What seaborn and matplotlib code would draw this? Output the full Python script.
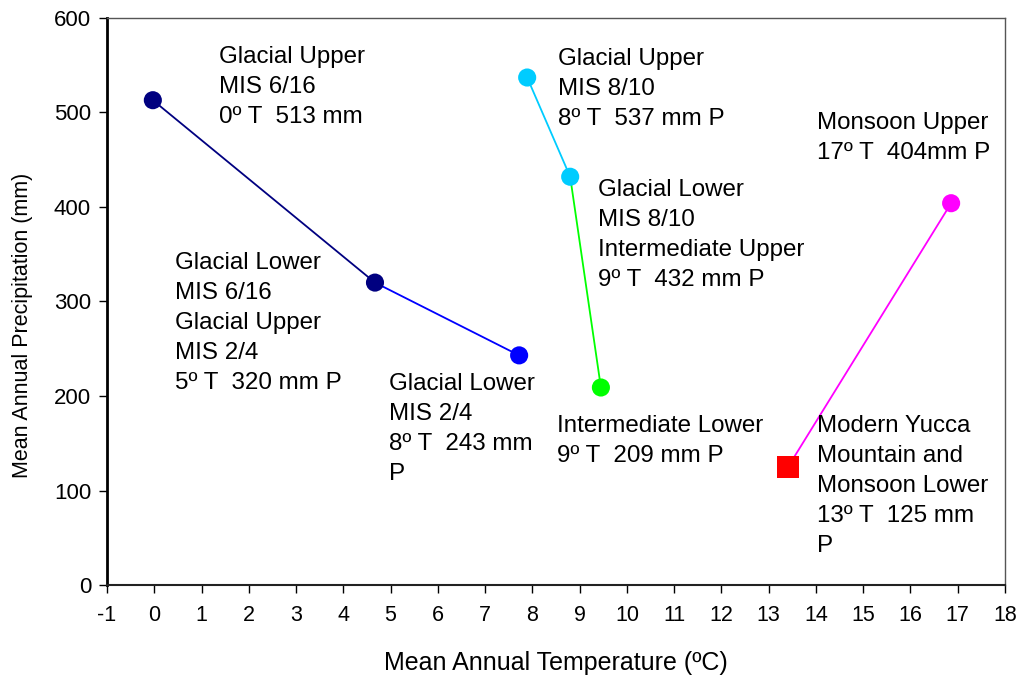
import matplotlib
matplotlib.use("Agg")
import matplotlib.pyplot as plt
import seaborn as sns
import pandas as pd

sns.set_style("white")
plt.rcParams["font.family"] = ["Liberation Sans", "DejaVu Sans"]
plt.rcParams["axes.unicode_minus"] = False
plt.rcParams["text.color"] = "black"
plt.rcParams["axes.labelcolor"] = "black"
plt.rcParams["xtick.color"] = "black"
plt.rcParams["ytick.color"] = "black"

# Climate states: mean annual temperature (ºC) and precipitation (mm)
state_names = ["Glacial Upper MIS 6/16", "Glacial Lower MIS 6/16", "Glacial Lower MIS 2/4",
               "Glacial Upper MIS 8/10", "Glacial Lower MIS 8/10", "Intermediate Lower",
               "Monsoon Upper", "Modern Yucca Mountain"]
temperature = [-0.03, 4.67, 7.72, 7.89, 8.80, 9.45, 16.86, 13.41]
precipitation = [513, 320, 243, 537, 432, 209, 404, 125]
marker_colors = ["#000080", "#000080", "#0000FF", "#00CCFF", "#00CCFF", "#00FF00", "#FF00FF", "#FF0000"]
marker_shapes = ["o", "o", "o", "o", "o", "o", "o", "s"]

# Connecting segments (index pairs into the arrays above) and their colours
segments = [(0, 1), (1, 2), (3, 4), (4, 5), (6, 7)]
segment_colors = ["#000080", "#0000FF", "#00CCFF", "#00FF00", "#FF00FF"]

labels = [
    "Glacial Upper\nMIS 6/16\n0º T  513 mm",
    "Glacial Lower\nMIS 6/16\nGlacial Upper\nMIS 2/4\n5º T  320 mm P",
    "Glacial Lower\nMIS 2/4\n8º T  243 mm\nP",
    "Glacial Upper\nMIS 8/10\n8º T  537 mm P",
    "Glacial Lower\nMIS 8/10\nIntermediate Upper\n9º T  432 mm P",
    "Intermediate Lower\n9º T  209 mm P",
    "Monsoon Upper\n17º T  404mm P",
    "Modern Yucca\nMountain and\nMonsoon Lower\n13º T  125 mm\nP",
]
label_pos = [(1.37, 570), (0.44, 352), (4.97, 224), (8.54, 568),
             (9.39, 430), (8.52, 180), (14.02, 500), (14.02, 180)]

df = pd.DataFrame({"T": temperature, "P": precipitation})

fig = plt.figure(figsize=(10.2, 6.76), dpi=100)
ax = fig.add_axes([0.1049, 0.1346, 0.8804, 0.8388])

for (i, j), c in zip(segments, segment_colors):
    seg = df.iloc[[i, j]]
    sns.lineplot(data=seg, x="T", y="P", color=c, lw=1.3, sort=False,
                 estimator=None, ax=ax, zorder=2)

for k in range(len(df)):
    sns.scatterplot(x=[df["T"][k]], y=[df["P"][k]], color=marker_colors[k],
                    marker=marker_shapes[k], s=170 if marker_shapes[k] == "o" else 240,
                    edgecolor="none", ax=ax, zorder=3)

for txt, (x, y) in zip(labels, label_pos):
    ax.text(x, y, txt, fontsize=17.4, va="top", ha="left", linespacing=1.47,
            color="black")

ax.set_xlim(-1, 18)
ax.set_ylim(0, 600)
ax.set_xticks(range(-1, 19))
ax.set_yticks(range(0, 601, 100))
ax.tick_params(axis="both", labelsize=15.5, direction="out", length=5.5,
               width=1, left=True, bottom=True)
ax.tick_params(axis="x", pad=9)
ax.tick_params(axis="y", labelsize=16, pad=6)
ax.set_xlabel("Mean Annual Temperature (ºC)", fontsize=18, labelpad=18)
ax.set_ylabel("Mean Annual Precipitation (mm)", fontsize=15.5)
ax.yaxis.set_label_coords(-0.082, 0.4586)

ax.spines["left"].set_color("black")
ax.spines["left"].set_linewidth(2)
ax.spines["bottom"].set_color("#222222")
ax.spines["bottom"].set_linewidth(1.5)
for s in ("top", "right"):
    ax.spines[s].set_color("#555555")
    ax.spines[s].set_linewidth(1)

fig.savefig("out.png", dpi=100)
